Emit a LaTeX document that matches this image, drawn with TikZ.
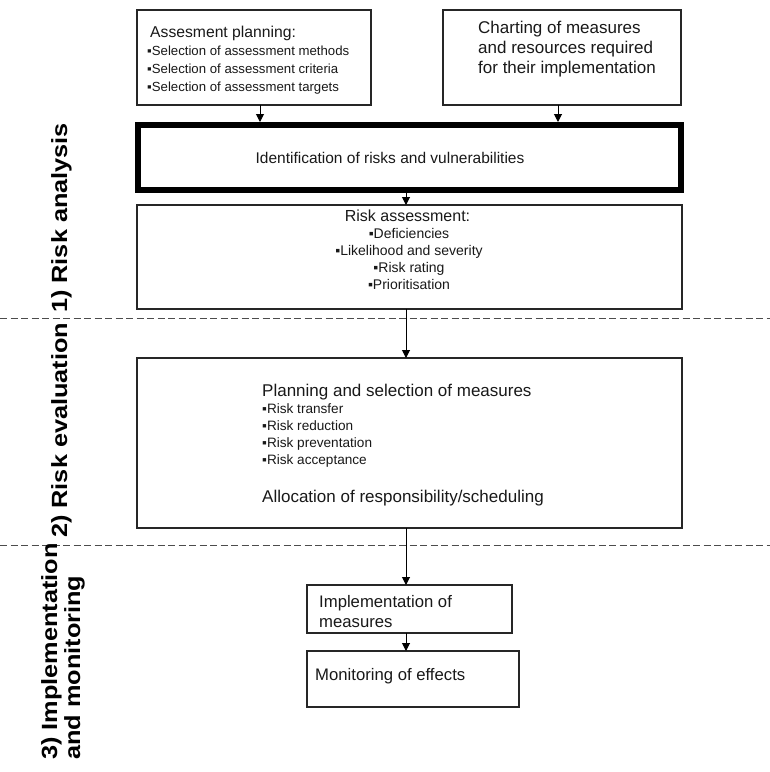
\documentclass[tikz,border=0pt]{standalone}
\usepackage{fontspec}
\setmainfont{Liberation Sans}
\newfontfamily\lblfont[FakeStretch=1.15]{Liberation Sans Bold}
\usetikzlibrary{arrows.meta}
\begin{document}
\begin{tikzpicture}[x=1pt,y=-1pt,
  box/.style={draw=black!85,line width=1.2pt,inner sep=0pt,outer sep=0pt},
  thickbox/.style={draw=black,line width=6pt,inner sep=0pt},
  arr/.style={draw=black,line width=1pt,-{Triangle[length=8pt,width=8pt]}},
  sep/.style={draw=black!70,line width=1pt,dash pattern=on 7pt off 3.5pt},
  txt/.style={inner sep=0pt,text=black!90,font=\fontsize{#1}{#1}\selectfont},
  lbl/.style={inner sep=0pt,rotate=90,anchor=base west,font=\lblfont\fontsize{22}{25}\selectfont}]
\useasboundingbox (0,0) rectangle (770,772);
\fill[white] (0,0) rectangle (770,772);
% boxes
\node[box,minimum width=234pt,minimum height=95pt] (b1) at (254,57.5) {};
\node[box,minimum width=238pt,minimum height=95pt] (b2) at (562,57.5) {};
\node[thickbox,minimum width=543pt,minimum height=65pt] (th) at (409,157.5) {};
\node[box,minimum width=545pt,minimum height=104pt] (b3) at (409.5,257) {};
\node[box,minimum width=545pt,minimum height=170pt] (b4) at (409.5,443) {};
\node[box,minimum width=205pt,minimum height=48pt] (b5) at (409.5,609) {};
\node[box,minimum width=212pt,minimum height=56pt] (b6) at (413,679) {};
% separators
\coordinate (l1) at (0,318); \coordinate (r1) at (770,318);
\coordinate (l2) at (0,545); \coordinate (r2) at (770,545);
\draw[sep] (l1) -- (r1);
\draw[sep] (l2) -- (r2);
% texts
\node[txt=15.7,anchor=base west] (t1) at (150,37) {Assesment planning:};
\node[txt=13.2,anchor=base west] (t1a) at (147,55) {▪Selection of assessment methods};
\node[txt=13.2,anchor=base west] (t1b) at (147,73) {▪Selection of assessment criteria};
\node[txt=13.2,anchor=base west] (t1c) at (147,91) {▪Selection of assessment targets};
\node[txt=17,anchor=base west] (t2a) at (478,33) {Charting of measures};
\node[txt=17,anchor=base west] (t2b) at (478,53) {and resources required};
\node[txt=17,anchor=base west] (t2c) at (478,73) {for their implementation};
\node[txt=15.5,anchor=base] (tth) at (390,163) {Identification of risks and vulnerabilities};
\node[txt=16,anchor=base] (t3) at (407.5,221) {Risk assessment:};
\node[txt=14,anchor=base] (t3a) at (409,238) {▪Deficiencies};
\node[txt=14,anchor=base] (t3b) at (409,255) {▪Likelihood and severity};
\node[txt=14,anchor=base] (t3c) at (409,272) {▪Risk rating};
\node[txt=14,anchor=base] (t3d) at (409,289) {▪Prioritisation};
\node[txt=17,anchor=base west] (t4) at (262,396) {Planning and selection of measures};
\node[txt=13.6,anchor=base west] (t4a) at (262,413) {▪Risk transfer};
\node[txt=13.6,anchor=base west] (t4b) at (262,430.5) {▪Risk reduction};
\node[txt=13.6,anchor=base west] (t4c) at (262,447.5) {▪Risk preventation};
\node[txt=13.6,anchor=base west] (t4d) at (262,464.5) {▪Risk acceptance};
\node[txt=17,anchor=base west] (t4e) at (262,502) {Allocation of responsibility/scheduling};
\node[txt=16.7,anchor=base west] (t5a) at (319,607) {Implementation of};
\node[txt=16.7,anchor=base west] (t5b) at (319,627) {measures};
\node[txt=16.7,anchor=base west] (t6) at (315,680) {Monitoring of effects};
% side labels
\node[lbl] (s1) at (67,313) {1) Risk analysis};
\node[lbl] (s2) at (67,538) {2) Risk evaluation};
\node[lbl] (s3a) at (57,760) {3) Implementation};
\node[lbl] (s3b) at (80,760) {and monitoring};
% connectors
\coordinate (sp) at (406,0);
\draw[arr] ([xshift=6pt]b1.south) -- ([xshift=6pt]b1.south |- th.north);
\draw[arr] ([xshift=-4pt]b2.south) -- ([xshift=-4pt]b2.south |- th.north);
\draw[arr] (th.south -| sp) -- (b3.north -| sp);
\draw[arr] (b3.south -| sp) -- (b4.north -| sp);
\draw[arr] (b4.south -| sp) -- (b5.north -| sp);
\draw[arr] (b5.south -| sp) -- (b6.north -| sp);
\end{tikzpicture}
\end{document}
